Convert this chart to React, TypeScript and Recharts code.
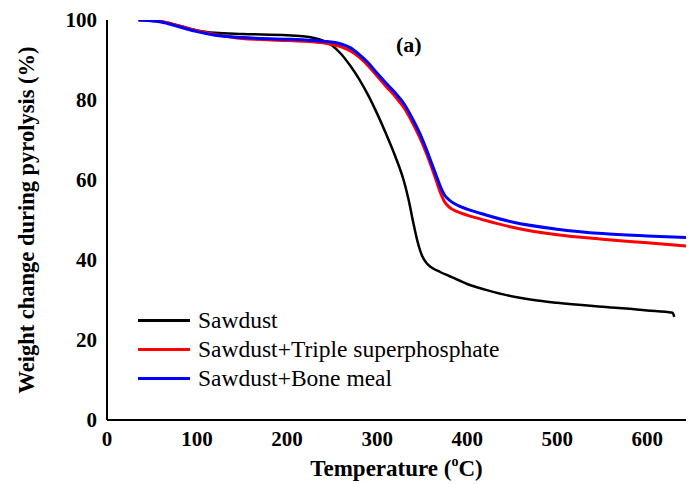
import React from 'react';
import { LineChart, Line, XAxis, YAxis } from 'recharts';

// Temperature (°C) and weight (%) per series
const sawdustT = [35, 60, 80, 100, 120, 150, 200, 220, 235, 250, 260, 270, 280, 290, 300, 310, 320, 330, 335, 340, 345, 350, 355, 360, 370, 380, 390, 400, 420, 440, 460, 480, 500, 550, 600, 628, 630];
const sawdustW = [100, 99.6, 98.6, 97.4, 96.8, 96.5, 96.2, 95.9, 95.2, 93.6, 91.5, 88.6, 85.2, 81.2, 76.6, 71.5, 66, 59.5, 55, 49.5, 44.5, 41, 39.2, 38.2, 37, 36, 35, 34, 32.6, 31.4, 30.5, 29.8, 29.3, 28.3, 27.4, 26.8, 25.8];

const tspT = [35, 60, 80, 100, 120, 150, 200, 220, 240, 260, 270, 280, 290, 300, 310, 320, 330, 340, 350, 355, 360, 365, 370, 375, 380, 390, 400, 420, 450, 500, 550, 600, 643];
const tspW = [100, 99.6, 98.5, 97.3, 96.4, 95.4, 94.9, 94.7, 94.3, 93.3, 92.3, 90.7, 88.6, 86, 83.4, 80.9, 78, 74, 69.3, 66.5, 63.5, 60.3, 57, 54.5, 53.2, 52, 51.2, 49.9, 48.2, 46.3, 45.2, 44.3, 43.5];

const boneT = [35, 60, 80, 100, 120, 150, 200, 220, 240, 260, 270, 280, 290, 300, 310, 320, 330, 340, 350, 355, 360, 365, 370, 375, 380, 390, 400, 420, 450, 500, 550, 600, 643];
const boneW = [100, 99.5, 98.3, 97.1, 96.2, 95.6, 95.2, 95, 94.7, 94, 93.1, 91.4, 89.3, 86.7, 84.2, 81.8, 79, 75, 70.3, 67.5, 64.5, 61.5, 58.5, 56.2, 55, 53.6, 52.7, 51.3, 49.5, 47.7, 46.6, 46, 45.6];

const seriesNames = ['Sawdust', 'Sawdust+Triple superphosphate', 'Sawdust+Bone meal'];
const seriesColors = ['#000000', '#ff0000', '#0000ff'];

const xMajorTicks = [0, 100, 200, 300, 400, 500, 600];
const xMinorTicks = [50, 150, 250, 350, 450, 550];
const xAllTicks = [0, 50, 100, 150, 200, 250, 300, 350, 400, 450, 500, 550, 600];
const yMajorTicks = [0, 20, 40, 60, 80, 100];
const yMinorTicks = [10, 30, 50, 70, 90];
const yAllTicks = [0, 10, 20, 30, 40, 50, 60, 70, 80, 90, 100];

const xDomain: [number, number] = [0, 643];
const yDomain: [number, number] = [0, 100];

const toData = (t: number[], w: number[]) => t.map((x, i) => ({ t: x, w: w[i] }));
const sawdustData = toData(sawdustT, sawdustW);
const tspData = toData(tspT, tspW);
const boneData = toData(boneT, boneW);

const FONT = '"Liberation Serif", "Times New Roman", serif';
const tickStyle = { fontFamily: FONT, fontWeight: 'bold', fontSize: 21, fill: '#000' };
const empty = () => '';

export default function App() {
  return (
    <div style={{ position: 'absolute', left: 0, top: 0, width: 688, height: 484, background: '#fff' }}>
      <LineChart width={688} height={484} margin={{ top: 20, right: 2, bottom: 0, left: 0 }}>
        <XAxis
          xAxisId="main"
          dataKey="t"
          type="number"
          domain={xDomain}
          allowDataOverflow
          ticks={xMajorTicks}
          interval={0}
          height={64}
          tickLine={false}
          tickSize={0}
          tickMargin={11}
          axisLine={{ stroke: '#000', strokeWidth: 2 }}
          tick={tickStyle}
          label={{
            content: (props: any) => {
              const vb = props.viewBox || {};
              const cx = (vb.x ?? 107) + (vb.width ?? 579) / 2;
              return (
                <text x={cx} y={476} textAnchor="middle" fontFamily={FONT} fontWeight="bold" fontSize={23} fill="#000">
                  Temperature (<tspan fontSize={14} dy={-10}>o</tspan><tspan dy={10}>C)</tspan>
                </text>
              );
            },
          }}
        />
        <XAxis xAxisId="xMaj" dataKey="t" type="number" domain={xDomain} allowDataOverflow ticks={xMajorTicks} interval={0} orientation="bottom" mirror height={0} tickSize={8} axisLine={false} tickFormatter={empty} tickLine={{ stroke: '#000', strokeWidth: 2 }} />
        <XAxis xAxisId="xMin" dataKey="t" type="number" domain={xDomain} allowDataOverflow ticks={xMinorTicks} interval={0} orientation="bottom" mirror height={0} tickSize={4} axisLine={false} tickFormatter={empty} tickLine={{ stroke: '#000', strokeWidth: 1.5 }} />
        <XAxis xAxisId="xTop" dataKey="t" type="number" domain={xDomain} allowDataOverflow ticks={xAllTicks} interval={0} orientation="top" mirror height={0} tickSize={4} axisLine={{ stroke: '#000', strokeWidth: 2 }} tickFormatter={empty} tickLine={{ stroke: '#000', strokeWidth: 1.5 }} />

        <YAxis
          yAxisId="main"
          dataKey="w"
          type="number"
          domain={yDomain}
          allowDataOverflow
          ticks={yMajorTicks}
          interval={0}
          width={107}
          tickLine={false}
          tickSize={0}
          tickMargin={10}
          axisLine={{ stroke: '#000', strokeWidth: 2 }}
          tick={tickStyle}
          label={{
            content: (props: any) => {
              const vb = props.viewBox || {};
              const cy = (vb.y ?? 20) + (vb.height ?? 400) / 2;
              return (
                <text x={26} y={cy} transform={`rotate(-90 26 ${cy})`} textAnchor="middle" dominantBaseline="central" fontFamily={FONT} fontWeight="bold" fontSize={22.5} fill="#000">
                  Weight change during pyrolysis (%)
                </text>
              );
            },
          }}
        />
        <YAxis yAxisId="yMaj" type="number" domain={yDomain} allowDataOverflow ticks={yMajorTicks} interval={0} orientation="left" mirror width={0} tickSize={8} axisLine={false} tickFormatter={empty} tickLine={{ stroke: '#000', strokeWidth: 2 }} />
        <YAxis yAxisId="yMin" type="number" domain={yDomain} allowDataOverflow ticks={yMinorTicks} interval={0} orientation="left" mirror width={0} tickSize={4} axisLine={false} tickFormatter={empty} tickLine={{ stroke: '#000', strokeWidth: 1.5 }} />
        <YAxis yAxisId="yRight" type="number" domain={yDomain} allowDataOverflow ticks={yAllTicks} interval={0} orientation="right" mirror width={0} tickSize={4} axisLine={{ stroke: '#000', strokeWidth: 2 }} tickFormatter={empty} tickLine={{ stroke: '#000', strokeWidth: 1.5 }} />

        <Line xAxisId="main" yAxisId="main" data={sawdustData} dataKey="w" type="monotone" stroke={seriesColors[0]} strokeWidth={2.5} dot={false} isAnimationActive={false} />
        <Line xAxisId="main" yAxisId="main" data={tspData} dataKey="w" type="monotone" stroke={seriesColors[1]} strokeWidth={3} dot={false} isAnimationActive={false} />
        <Line xAxisId="main" yAxisId="main" data={boneData} dataKey="w" type="monotone" stroke={seriesColors[2]} strokeWidth={3} dot={false} isAnimationActive={false} />
      </LineChart>

      <div style={{ position: 'absolute', left: 396, top: 30, fontFamily: FONT, fontWeight: 'bold', fontSize: 22, lineHeight: '30px', color: '#000' }}>(a)</div>

      {seriesNames.map((name, i) => (
        <div key={name} style={{ position: 'absolute', left: 138, top: 305 + i * 29, height: 30, display: 'flex', alignItems: 'center' }}>
          <div style={{ width: 52, height: 3, background: seriesColors[i] }} />
          <div style={{ marginLeft: 8, fontFamily: FONT, fontSize: 23.5, lineHeight: '30px', color: '#000', whiteSpace: 'nowrap' }}>{name}</div>
        </div>
      ))}
    </div>
  );
}
